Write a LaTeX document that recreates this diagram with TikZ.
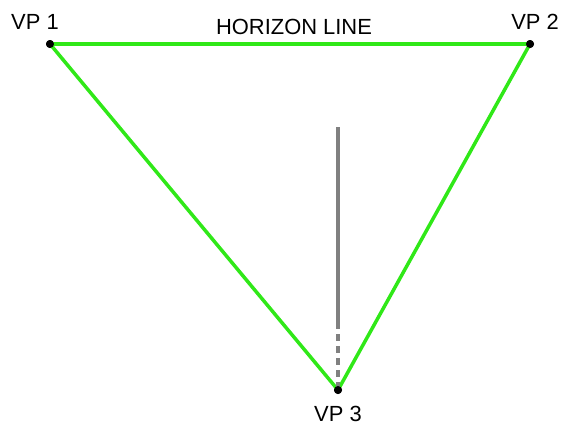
\documentclass[tikz,border=0pt]{standalone}
\usepackage{fontspec}
\setmainfont{Liberation Sans}
\usepackage{xcolor}
\usepackage{tikz}
\usetikzlibrary{positioning,calc}
\definecolor{vpgreen}{RGB}{48,232,24}
\definecolor{axisgray}{RGB}{128,128,128}

\begin{document}
\begin{tikzpicture}[
  x=1bp, y=-1bp,
  vp_dot/.style  ={circle, fill=black, inner sep=0pt, minimum size=8bp},
  vp_lbl/.style  ={font=\fontsize{22}{25}\selectfont, inner sep=0pt},
  hz_line/.style ={vpgreen, line width=3.5bp},
  ax_solid/.style={axisgray, line width=3.5bp},
  ax_dash/.style ={axisgray, line width=3.5bp, dash pattern=on 7bp off 5bp},
]
  \useasboundingbox (0,0) rectangle (564,428);

  \node[vp_dot] (vp1) at (50,44)  {};
  \node[vp_dot] (vp2) at (530,44) {};
  \node[vp_dot] (vp3) at (338,390) {};
  \coordinate (ax_top) at (338,127);
  \coordinate (ax_mid) at (338,322);

  % triangle of the three vanishing points
  \draw[hz_line] (vp1.center) -- (vp2.center);
  \draw[hz_line] (vp1.center) -- (vp3.center);
  \draw[hz_line] (vp2.center) -- (vp3.center);

  % vertical axis
  \draw[ax_solid] (ax_top) -- (ax_mid);
  \draw[ax_dash]  (ax_mid) -- (vp3.center);

  \node[vp_dot] at (vp1) {};
  \node[vp_dot] at (vp2) {};
  \node[vp_dot] at (vp3) {};

  \node[vp_lbl] (lbl1) at (35,22)   {VP 1};
  \node[vp_lbl] (lbl2) at (535,22)  {VP 2};
  \node[vp_lbl] (lblh) at (294,27)  {HORIZON LINE};
  \node[vp_lbl, below=12bp of vp3] (lbl3) {VP 3};
\end{tikzpicture}
\end{document}
